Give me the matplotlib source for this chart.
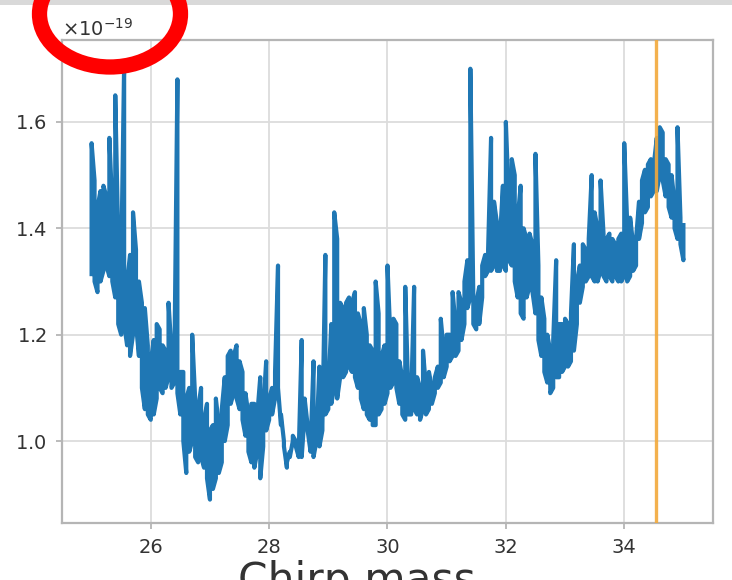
import numpy as np
import matplotlib
matplotlib.use("Agg")
import matplotlib.pyplot as plt
from matplotlib.patches import Ellipse, Rectangle

plt.rcParams["path.simplify"] = False

# Chirp-mass grid and the lower/upper swing of the noise amplitude (units of 1e-19)
chirp_mass = [
    25.00, 25.05, 25.10, 25.15, 25.20, 25.25, 25.30, 25.35, 25.40, 25.45,
    25.50, 25.55, 25.60, 25.65, 25.70, 25.75, 25.80, 25.85, 25.90, 25.95,
    26.00, 26.05, 26.10, 26.15, 26.20, 26.25, 26.30, 26.35, 26.40, 26.45,
    26.50, 26.55, 26.60, 26.65, 26.70, 26.75, 26.80, 26.85, 26.90, 26.95,
    27.00, 27.05, 27.10, 27.15, 27.20, 27.25, 27.30, 27.35, 27.40, 27.45,
    27.50, 27.55, 27.60, 27.65, 27.70, 27.75, 27.80, 27.85, 27.90, 27.95,
    28.00, 28.05, 28.10, 28.15, 28.20, 28.25, 28.30, 28.35, 28.40, 28.45,
    28.50, 28.55, 28.60, 28.65, 28.70, 28.75, 28.80, 28.85, 28.90, 28.95,
    29.00, 29.05, 29.10, 29.15, 29.20, 29.25, 29.30, 29.35, 29.40, 29.45,
    29.50, 29.55, 29.60, 29.65, 29.70, 29.75, 29.80, 29.85, 29.90, 29.95,
    30.00, 30.05, 30.10, 30.15, 30.20, 30.25, 30.30, 30.35, 30.40, 30.45,
    30.50, 30.55, 30.60, 30.65, 30.70, 30.75, 30.80, 30.85, 30.90, 30.95,
    31.00, 31.05, 31.10, 31.15, 31.20, 31.25, 31.30, 31.35, 31.40, 31.45,
    31.50, 31.55, 31.60, 31.65, 31.70, 31.75, 31.80, 31.85, 31.90, 31.95,
    32.00, 32.05, 32.10, 32.15, 32.20, 32.25, 32.30, 32.35, 32.40, 32.45,
    32.50, 32.55, 32.60, 32.65, 32.70, 32.75, 32.80, 32.85, 32.90, 32.95,
    33.00, 33.05, 33.10, 33.15, 33.20, 33.25, 33.30, 33.35, 33.40, 33.45,
    33.50, 33.55, 33.60, 33.65, 33.70, 33.75, 33.80, 33.85, 33.90, 33.95,
    34.00, 34.05, 34.10, 34.15, 34.20, 34.25, 34.30, 34.35, 34.40, 34.45,
    34.50, 34.55, 34.60, 34.65, 34.70, 34.75, 34.80, 34.85, 34.90, 34.95,
    35.00,
]

strain_low = [
    1.31, 1.30, 1.28, 1.30, 1.32, 1.33, 1.31, 1.30, 1.27, 1.22,
    1.20, 1.22, 1.18, 1.16, 1.20, 1.22, 1.16, 1.10, 1.06, 1.05,
    1.04, 1.05, 1.08, 1.10, 1.09, 1.10, 1.12, 1.10, 1.11, 1.09,
    1.05, 1.00, 0.94, 0.98, 1.00, 0.97, 0.96, 0.97, 0.95, 0.93,
    0.89, 0.91, 0.93, 0.94, 0.96, 1.00, 1.03, 1.07, 1.09, 1.08,
    1.06, 1.04, 1.01, 0.98, 0.96, 0.95, 0.98, 0.93, 0.99, 1.02,
    1.04, 1.05, 1.08, 1.10, 1.03, 0.99, 0.95, 0.97, 1.00, 0.99,
    0.97, 0.97, 1.05, 1.02, 0.98, 0.97, 1.00, 0.99, 1.02, 1.05,
    1.06, 1.07, 1.10, 1.08, 1.12, 1.12, 1.13, 1.14, 1.13, 1.12,
    1.10, 1.08, 1.06, 1.05, 1.04, 1.03, 1.03, 1.05, 1.06, 1.07,
    1.09, 1.10, 1.11, 1.10, 1.07, 1.05, 1.04, 1.05, 1.05, 1.06,
    1.05, 1.04, 1.06, 1.05, 1.06, 1.07, 1.09, 1.10, 1.11, 1.12,
    1.14, 1.15, 1.16, 1.16, 1.17, 1.19, 1.22, 1.25, 1.27, 1.22,
    1.21, 1.22, 1.27, 1.31, 1.32, 1.32, 1.33, 1.32, 1.32, 1.33,
    1.32, 1.34, 1.33, 1.30, 1.27, 1.24, 1.23, 1.27, 1.29, 1.28,
    1.24, 1.19, 1.16, 1.13, 1.11, 1.09, 1.10, 1.12, 1.12, 1.13,
    1.14, 1.14, 1.15, 1.17, 1.22, 1.26, 1.29, 1.30, 1.31, 1.31,
    1.30, 1.30, 1.32, 1.31, 1.30, 1.31, 1.30, 1.31, 1.30, 1.30,
    1.31, 1.30, 1.31, 1.32, 1.33, 1.38, 1.41, 1.43, 1.44, 1.46,
    1.47, 1.47, 1.50, 1.49, 1.46, 1.44, 1.42, 1.40, 1.38, 1.37,
    1.34,
]

strain_high = [
    1.56, 1.49, 1.44, 1.47, 1.48, 1.46, 1.57, 1.44, 1.65, 1.38,
    1.33, 1.71, 1.30, 1.35, 1.43, 1.36, 1.30, 1.26, 1.25, 1.18,
    1.15, 1.19, 1.22, 1.21, 1.18, 1.17, 1.26, 1.17, 1.16, 1.68,
    1.13, 1.13, 1.08, 1.10, 1.20, 1.08, 1.06, 1.10, 1.04, 1.07,
    1.02, 1.03, 1.08, 1.03, 1.06, 1.12, 1.16, 1.17, 1.16, 1.18,
    1.15, 1.13, 1.09, 1.05, 1.07, 1.07, 1.05, 1.12, 1.06, 1.15,
    1.08, 1.10, 1.13, 1.33, 1.05, 1.00, 0.96, 0.98, 1.01, 1.00,
    0.98, 1.19, 1.08, 1.03, 0.99, 1.15, 1.01, 1.14, 1.03, 1.35,
    1.10, 1.22, 1.43, 1.38, 1.26, 1.25, 1.26, 1.27, 1.26, 1.28,
    1.24, 1.22, 1.25, 1.20, 1.18, 1.17, 1.30, 1.24, 1.16, 1.18,
    1.33, 1.19, 1.23, 1.22, 1.15, 1.12, 1.29, 1.09, 1.08, 1.29,
    1.12, 1.10, 1.17, 1.10, 1.13, 1.10, 1.12, 1.14, 1.23, 1.17,
    1.20, 1.20, 1.28, 1.22, 1.28, 1.26, 1.30, 1.34, 1.70, 1.27,
    1.26, 1.29, 1.33, 1.35, 1.36, 1.57, 1.45, 1.41, 1.38, 1.48,
    1.60, 1.45, 1.53, 1.50, 1.42, 1.48, 1.40, 1.38, 1.39, 1.37,
    1.54, 1.33, 1.27, 1.23, 1.20, 1.17, 1.19, 1.34, 1.22, 1.22,
    1.23, 1.22, 1.24, 1.37, 1.30, 1.33, 1.37, 1.36, 1.38, 1.50,
    1.43, 1.40, 1.49, 1.39, 1.38, 1.39, 1.38, 1.37, 1.38, 1.39,
    1.56, 1.41, 1.42, 1.37, 1.38, 1.45, 1.49, 1.51, 1.52, 1.53,
    1.52, 1.57, 1.59, 1.58, 1.53, 1.52, 1.50, 1.45, 1.59, 1.42,
    1.41,
]

true_chirp_mass = 34.54
x_ticks = [26, 28, 30, 32, 34]
y_ticks = [1.0, 1.2, 1.4, 1.6]
SCALE = 1e-19

fig = plt.figure(figsize=(7.32, 5.80), dpi=100)
fig.patch.set_facecolor("white")
ax = fig.add_axes([62 / 732, 57 / 580, 651 / 732, 483 / 580])

# the trace sweeps low->high at one grid point and high->low at the next,
# so consecutive swings pack into a dense band
m = np.asarray(chirp_mass)
lo = np.asarray(strain_low)
hi = np.asarray(strain_high)
pairs = np.column_stack([lo, hi])
pairs[1::2] = pairs[1::2, ::-1]
xs = np.repeat(m, 2)
ys = pairs.ravel() * SCALE
ax.plot(xs, ys, color="#1f77b4", lw=3.0, solid_joinstyle="round",
        solid_capstyle="butt", zorder=3)

ax.axvline(true_chirp_mass, color="#f2a93b", lw=2.4, alpha=0.9, zorder=4)

ax.set_xlim(24.5, 35.5)
ax.set_ylim(0.846 * SCALE, 1.754 * SCALE)
ax.set_xticks(x_ticks)
ax.set_yticks([v * SCALE for v in y_ticks])
ax.ticklabel_format(axis="y", style="sci", scilimits=(0, 0), useMathText=True)

ax.grid(True, color="#dcdcdc", lw=1.3, zorder=0)
ax.set_axisbelow(True)
for sp in ax.spines.values():
    sp.set_color("#b5b5b5")
    sp.set_linewidth(1.6)
ax.tick_params(axis="both", labelsize=14, colors="#b5b5b5", labelcolor="#333333",
               length=4.5, width=1.3, pad=6.5)
ax.yaxis.get_offset_text().set_fontsize(14)
ax.yaxis.get_offset_text().set_color("#333333")

# large axis caption running off the bottom edge
fig.text(357 / 732, -13 / 580, "Chirp mass", fontsize=30.5, color="#333333",
         ha="center", va="baseline")

# thin grey strip along the top edge
fig.add_artist(Rectangle((0, 1 - 5 / 580), 1, 5 / 580, transform=fig.transFigure,
                         facecolor="#d9d9d9", edgecolor="none", zorder=5))

# red highlight ring around the exponent
fig.add_artist(Ellipse((110 / 732, 1 - 14 / 580), 141 / 732, 106 / 580,
                       transform=fig.transFigure, fill=False,
                       edgecolor="#ff0000", lw=11, zorder=6))

fig.savefig("out.png", dpi=100, facecolor="white")
